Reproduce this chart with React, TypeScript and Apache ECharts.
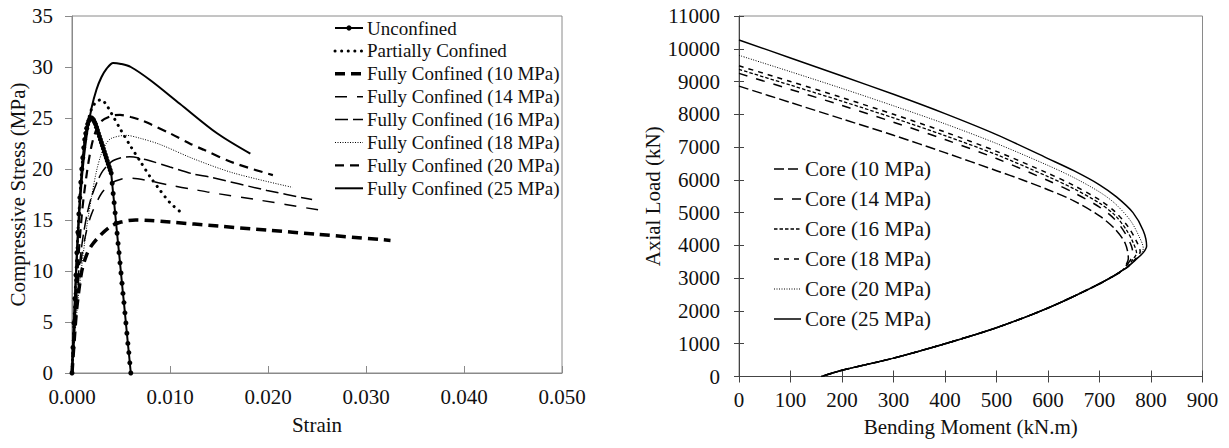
import React, { useEffect, useRef } from "react";
import * as echarts from "echarts";

// ---------- Left chart: stress-strain ----------
const unconfinedStrain = [
  0, 0.0001, 0.0002, 0.0003, 0.0004, 0.0005, 0.0006, 0.0007, 0.0008, 0.0009, 0.001,
  0.0011, 0.0012, 0.0013, 0.0014, 0.0015, 0.0016, 0.0017, 0.0018, 0.0019, 0.002,
  0.0021, 0.0022, 0.0023, 0.0024, 0.0025, 0.0026, 0.0027, 0.0028, 0.0029, 0.003,
  0.0031, 0.0032, 0.0033, 0.0034, 0.0035, 0.0036, 0.0037, 0.0038, 0.0039, 0.004,
  0.0041, 0.0042, 0.0043, 0.0044, 0.0045, 0.0046, 0.0047, 0.0048, 0.0049, 0.005,
  0.0051, 0.0052, 0.0053, 0.0054, 0.0055, 0.0056, 0.0057, 0.0058, 0.0059, 0.006,
];
const unconfinedStress = [
  0, 2.5, 4.9, 7.3, 9.6, 11.8, 13.8, 15.6, 17.2, 18.7, 20.0,
  21.1, 22.1, 22.9, 23.5, 24.0, 24.4, 24.7, 24.9, 25.0, 25.0,
  24.9, 24.8, 24.6, 24.4, 24.1, 23.8, 23.5, 23.2, 22.9, 22.6,
  22.3, 22.0, 21.7, 21.4, 21.1, 20.8, 20.5, 20.2, 19.9, 19.6,
  18.6, 17.6, 16.7, 15.7, 14.7, 13.7, 12.7, 11.8, 10.8, 9.8,
  8.8, 7.8, 6.9, 5.9, 4.9, 3.9, 2.9, 2.0, 1.0, 0,
];

const partialStrain = [0, 0.0005, 0.001, 0.0015, 0.002, 0.0025, 0.003, 0.0035, 0.004, 0.005, 0.006, 0.007, 0.008, 0.009, 0.01, 0.0113];
const partialStress = [0, 11.8, 20.0, 24.0, 25.9, 26.6, 26.8, 26.3, 25.5, 23.8, 22.2, 20.7, 19.2, 17.9, 16.7, 15.6];

const fc10Strain = [0, 0.00025, 0.0005, 0.001, 0.0015, 0.002, 0.003, 0.004, 0.005, 0.0065, 0.008, 0.01, 0.015, 0.02, 0.025, 0.0325];
const fc10Stress = [0, 3.6, 6.5, 10.0, 11.6, 12.5, 13.6, 14.4, 14.8, 15.0, 14.95, 14.8, 14.4, 14.0, 13.6, 13.0];

const fc14Strain = [0, 0.0005, 0.001, 0.0015, 0.002, 0.003, 0.004, 0.005, 0.006, 0.0076, 0.01, 0.0124, 0.0141, 0.0188, 0.0257];
const fc14Stress = [0, 7.5, 11.5, 14.0, 15.6, 17.6, 18.6, 19.0, 19.1, 18.9, 18.4, 18.0, 17.7, 17.0, 15.9];

const fc16Strain = [0, 0.0005, 0.001, 0.0015, 0.002, 0.003, 0.004, 0.005, 0.0059, 0.0076, 0.01, 0.0124, 0.0141, 0.0199, 0.0245];
const fc16Stress = [0, 8.0, 12.5, 15.4, 17.3, 19.6, 20.7, 21.1, 21.2, 20.9, 20.2, 19.5, 19.2, 17.9, 17.0];

const fc18Strain = [0, 0.0005, 0.001, 0.0015, 0.002, 0.0025, 0.003, 0.0035, 0.004, 0.0055, 0.007, 0.009, 0.0124, 0.0165, 0.0225];
const fc18Stress = [0, 6.0, 10.5, 14.3, 17.3, 19.8, 21.5, 22.5, 23.0, 23.3, 23.0, 22.4, 21.0, 19.6, 18.2];

const fc20Strain = [0, 0.0005, 0.001, 0.0015, 0.002, 0.0025, 0.003, 0.004, 0.0049, 0.006, 0.007, 0.008, 0.01, 0.012, 0.0134, 0.0165, 0.0205];
const fc20Stress = [0, 9.0, 15.5, 19.5, 22.3, 23.9, 24.7, 25.2, 25.3, 25.1, 24.8, 24.4, 23.5, 22.5, 21.9, 20.6, 19.4];

const fc25Strain = [0, 0.0005, 0.001, 0.0015, 0.002, 0.0025, 0.003, 0.0035, 0.0042, 0.005, 0.006, 0.008, 0.011, 0.0148, 0.0182];
const fc25Stress = [0, 11.5, 19.0, 23.3, 26.0, 27.8, 29.0, 29.8, 30.4, 30.3, 30.0, 28.7, 26.4, 23.5, 21.5];

const leftNames = [
  "Unconfined",
  "Partially Confined",
  "Fully Confined (10 MPa)",
  "Fully Confined (14 MPa)",
  "Fully Confined (16 MPa)",
  "Fully Confined (18 MPa)",
  "Fully Confined (20 MPa)",
  "Fully Confined (25 MPa)",
];

// ---------- Right chart: interaction diagram ----------
const core10M = [0, 100, 200, 300, 400, 500, 552, 600, 650, 700, 730, 750, 756, 753, 745, 700, 600, 500, 400, 300, 200, 160];
const core10P = [8860, 8360, 7860, 7360, 6830, 6280, 5990, 5700, 5360, 4900, 4500, 4060, 3600, 3450, 3250, 2830, 2090, 1490, 1000, 560, 190, 0];

const core14M = [0, 100, 200, 300, 400, 500, 600, 650, 700, 730, 750, 762, 765, 760, 752, 745, 700, 600, 500, 400, 300, 200, 160];
const core14P = [9250, 8760, 8270, 7760, 7230, 6650, 5980, 5610, 5170, 4790, 4370, 3980, 3710, 3550, 3380, 3230, 2830, 2090, 1490, 1000, 560, 190, 0];

const core16M = [0, 100, 200, 300, 400, 500, 600, 650, 700, 730, 752, 766, 772, 766, 758, 750, 700, 600, 500, 400, 300, 200, 160];
const core16P = [9370, 8890, 8400, 7890, 7350, 6770, 6100, 5730, 5290, 4920, 4480, 4060, 3760, 3600, 3420, 3290, 2830, 2090, 1490, 1000, 560, 190, 0];

const core18M = [0, 100, 200, 300, 400, 500, 600, 650, 700, 730, 755, 771, 779, 773, 765, 750, 700, 600, 500, 400, 300, 200, 160];
const core18P = [9480, 9000, 8510, 8000, 7460, 6870, 6200, 5830, 5390, 5030, 4580, 4150, 3810, 3650, 3500, 3290, 2830, 2090, 1490, 1000, 560, 190, 0];

const core20M = [0, 100, 200, 300, 400, 500, 600, 650, 700, 730, 760, 776, 785, 780, 770, 750, 700, 600, 500, 400, 300, 200, 160];
const core20P = [9800, 9300, 8790, 8260, 7710, 7110, 6440, 6070, 5630, 5280, 4760, 4300, 3910, 3720, 3560, 3290, 2830, 2090, 1490, 1000, 560, 190, 0];

const core25M = [0, 100, 200, 300, 400, 500, 600, 650, 700, 733, 765, 785, 791.5, 785, 770, 750, 700, 600, 500, 400, 300, 200, 160];
const core25P = [10270, 9720, 9170, 8610, 8020, 7380, 6650, 6280, 5850, 5480, 5000, 4450, 3980, 3780, 3560, 3290, 2830, 2090, 1490, 1000, 560, 190, 0];

const rightNames = ["Core (10 MPa)", "Core (14 MPa)", "Core (16 MPa)", "Core (18 MPa)", "Core (20 MPa)", "Core (25 MPa)"];

const pairs = (xs: number[], ys: number[]) => xs.map((x, i) => [x, ys[i]]);

export default function App() {
  const ref = useRef<HTMLDivElement>(null);
  useEffect(() => {
    if (!ref.current) return;
    const chart = echarts.init(ref.current, null, { renderer: "svg" });
    const font = "Liberation Serif";
    const txt = "#111";
    const ink = "#000";
    const gray = "#8a8a8a";
    const dark = "#444";

    // line styles: [width, dash, cap]
    const leftStyles: any[] = [
      { width: 2, dash: null, marker: true },
      { width: 3, dash: [0.1, 6.5], cap: "round" },
      { width: 3.5, dash: [10, 6] },
      { width: 1.5, dash: [12, 10] },
      { width: 1.5, dash: [13, 5] },
      { width: 1, dash: [1, 1.5] },
      { width: 2.2, dash: [9, 6] },
      { width: 2, dash: null },
    ];
    const rightStyles: any[] = [
      { width: 1.5, dash: [10, 4] },
      { width: 1.5, dash: [9, 9] },
      { width: 1.3, dash: [3.5, 2] },
      { width: 1.5, dash: [5, 5] },
      { width: 1, dash: [1, 1.5] },
      { width: 1.5, dash: null },
    ];
    const leftData = [
      pairs(unconfinedStrain, unconfinedStress),
      pairs(partialStrain, partialStress),
      pairs(fc10Strain, fc10Stress),
      pairs(fc14Strain, fc14Stress),
      pairs(fc16Strain, fc16Stress),
      pairs(fc18Strain, fc18Stress),
      pairs(fc20Strain, fc20Stress),
      pairs(fc25Strain, fc25Stress),
    ];
    const rightData = [
      pairs(core10M, core10P),
      pairs(core14M, core14P),
      pairs(core16M, core16P),
      pairs(core18M, core18P),
      pairs(core20M, core20P),
      pairs(core25M, core25P),
    ];

    const makeSeries = (name: string, data: number[][], st: any, axis: number) => ({
      name,
      type: "line",
      xAxisIndex: axis,
      yAxisIndex: axis,
      data,
      showSymbol: !!st.marker,
      symbol: st.marker ? "circle" : "none",
      symbolSize: 5,
      smooth: st.marker ? false : 0.3,
      z: st.marker ? 3 : 2,
      lineStyle: {
        color: ink,
        width: st.width,
        type: st.dash ? st.dash : "solid",
        cap: st.cap || "butt",
      },
      itemStyle: { color: ink },
    });

    const series: any[] = [];
    leftNames.forEach((n, i) => series.push(makeSeries(n, leftData[i], leftStyles[i], 0)));
    rightNames.forEach((n, i) => series.push(makeSeries(n, rightData[i], rightStyles[i], 1)));

    // manual legends
    const graphic: any[] = [];
    const addLegend = (
      names: string[],
      styles: any[],
      x0: number,
      iconW: number,
      textX: number,
      y0: number,
      step: number,
      fontSize: number
    ) => {
      names.forEach((n, i) => {
        const y = y0 + i * step;
        const st = styles[i];
        graphic.push({
          type: "line",
          shape: { x1: x0, y1: y, x2: x0 + iconW, y2: y },
          style: {
            stroke: ink,
            lineWidth: st.width,
            lineDash: st.dash || null,
            lineCap: st.cap || "butt",
          },
          silent: true,
        });
        if (st.marker) {
          graphic.push({
            type: "circle",
            shape: { cx: x0 + iconW / 2, cy: y, r: 2.6 },
            style: { fill: ink },
            silent: true,
          });
        }
        graphic.push({
          type: "text",
          x: textX,
          y,
          style: {
            text: n,
            fontSize,
            fontFamily: font,
            fill: txt,
            align: "left",
            verticalAlign: "middle",
          },
          silent: true,
        });
      });
    };
    addLegend(leftNames, leftStyles, 335, 28, 367, 28, 22.9, 19);
    addLegend(rightNames, rightStyles, 774, 27, 805, 169, 30, 21);

    const axisName = { fontSize: 21, fontFamily: font, color: txt };
    const axisLbl = { fontSize: 21, color: txt, fontFamily: font };

    const option: any = {
      animation: false,
      backgroundColor: "#fff",
      textStyle: { fontFamily: font, color: txt },
      grid: [
        { left: 72, top: 16, width: 490, height: 357, show: true, borderColor: gray, borderWidth: 1 },
        { left: 739, top: 16, width: 463.5, height: 360.5, show: true, borderColor: gray, borderWidth: 1 },
      ],
      xAxis: [
        {
          gridIndex: 0,
          type: "value",
          min: 0,
          max: 0.05,
          interval: 0.01,
          name: "Strain",
          nameLocation: "middle",
          nameGap: 41,
          nameTextStyle: axisName,
          axisLine: { lineStyle: { color: gray, width: 1 } },
          axisTick: { inside: true, length: 7, lineStyle: { color: gray } },
          axisLabel: { ...axisLbl, formatter: (v: number) => v.toFixed(3), margin: 13 },
          splitLine: { show: false },
        },
        {
          gridIndex: 1,
          type: "value",
          min: 0,
          max: 900,
          interval: 100,
          name: "Bending Moment (kN.m)",
          nameLocation: "middle",
          nameGap: 39.5,
          nameTextStyle: axisName,
          axisLine: { lineStyle: { color: dark, width: 1 } },
          axisTick: { inside: false, length: 6, lineStyle: { color: dark } },
          axisLabel: { ...axisLbl, margin: 13, formatter: (v: number) => String(v) },
          splitLine: { show: false },
        },
        {
          gridIndex: 1,
          type: "value",
          min: 0,
          max: 900,
          interval: 100,
          position: "bottom",
          axisLine: { show: false },
          axisTick: { inside: true, length: 6, lineStyle: { color: dark } },
          axisLabel: { show: false },
          splitLine: { show: false },
        },
      ],
      yAxis: [
        {
          gridIndex: 0,
          type: "value",
          min: 0,
          max: 35,
          interval: 5,
          name: "Compressive Stress (MPa)",
          nameLocation: "middle",
          nameGap: 40,
          nameTextStyle: axisName,
          axisLine: { show: true, lineStyle: { color: gray, width: 1 } },
          axisTick: { show: true, inside: false, length: 7, lineStyle: { color: gray } },
          axisLabel: { ...axisLbl, margin: 19 },
          splitLine: { show: false },
        },
        {
          gridIndex: 1,
          type: "value",
          min: 0,
          max: 11000,
          interval: 1000,
          name: "Axial Load (kN)",
          nameLocation: "middle",
          nameGap: 69,
          nameTextStyle: axisName,
          axisLine: { show: true, lineStyle: { color: dark, width: 1 } },
          axisTick: { show: true, inside: false, length: 5, lineStyle: { color: dark } },
          axisLabel: { ...axisLbl, margin: 19, formatter: (v: number) => String(v) },
          splitLine: { show: false },
        },
        {
          gridIndex: 1,
          type: "value",
          min: 0,
          max: 11000,
          interval: 1000,
          position: "left",
          axisLine: { show: false },
          axisTick: { show: true, inside: true, length: 5, lineStyle: { color: dark } },
          axisLabel: { show: false },
          splitLine: { show: false },
        },
      ],
      graphic,
      series,
    };
    chart.setOption(option);
    return () => chart.dispose();
  }, []);

  return (
    <div
      ref={ref}
      style={{ position: "fixed", left: 0, top: 0, width: 1229, height: 448, background: "#fff" }}
    />
  );
}
